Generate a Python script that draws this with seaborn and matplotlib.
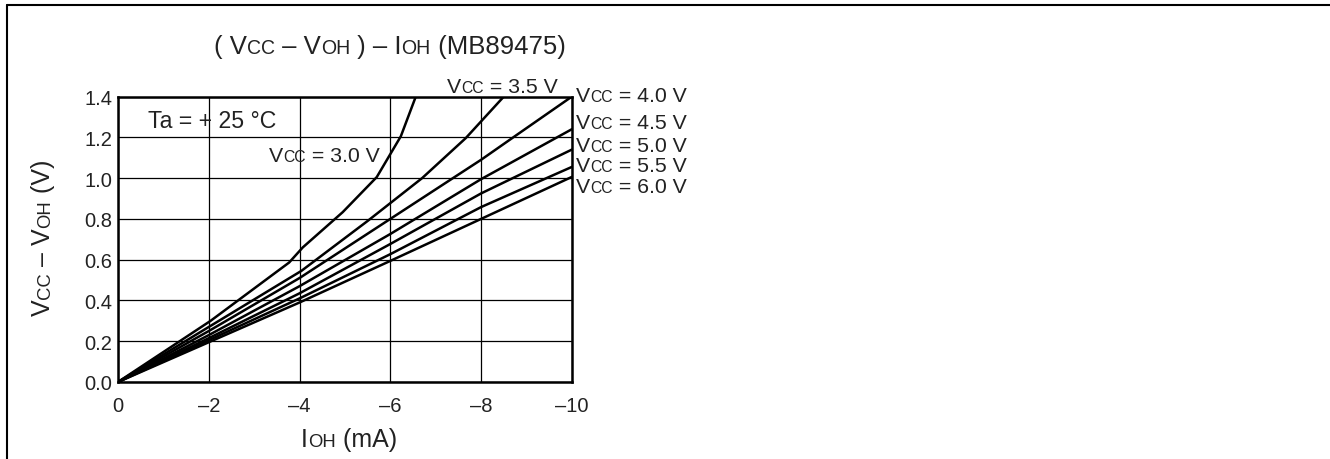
import pandas as pd
import matplotlib.pyplot as plt
import seaborn as sns
from matplotlib.lines import Line2D
from matplotlib.transforms import offset_copy

# curve data (IOH in mA, VCC - VOH in V)
ioh_30 = [0, -2.04, -3.77, -4.07, -4.95, -5.70, -6.23, -6.56]
v_30 = [0, 0.30, 0.586, 0.66, 0.833, 1.005, 1.205, 1.40]
ioh_35 = [0, -2.0, -4.04, -5.5, -6.7, -7.66, -8.5]
v_35 = [0, 0.27, 0.545, 0.79, 1.0, 1.196, 1.40]
ioh_40 = [0, -2, -4, -6, -8, -8.74, -10]
v_40 = [0, 0.25, 0.51, 0.80, 1.09, 1.205, 1.40]
ioh_hi = [0, -2, -4, -6, -8, -10]
v_45 = [0, 0.23, 0.47, 0.726, 0.995, 1.24]
v_50 = [0, 0.215, 0.435, 0.677, 0.925, 1.14]
v_55 = [0, 0.205, 0.41, 0.627, 0.858, 1.055]
v_60 = [0, 0.195, 0.39, 0.594, 0.80, 1.006]

vcc_labels = ["3.0", "3.5", "4.0", "4.5", "5.0", "5.5", "6.0"]
x_ticks = [0, -2, -4, -6, -8, -10]
x_ticklabels = ["0", "–2", "–4", "–6", "–8", "–10"]
y_ticks = [0.0, 0.2, 0.4, 0.6, 0.8, 1.0, 1.2, 1.4]
y_ticklabels = ["0.0", "0.2", "0.4", "0.6", "0.8", "1.0", "1.2", "1.4"]

series = [(ioh_30, v_30), (ioh_35, v_35), (ioh_40, v_40), (ioh_hi, v_45),
          (ioh_hi, v_50), (ioh_hi, v_55), (ioh_hi, v_60)]
rows = []
for lab, (xs, ys) in zip(vcc_labels, series):
    for x, y in zip(xs, ys):
        rows.append({"vcc": lab, "ioh": x, "v": y})
df = pd.DataFrame(rows)

sns.set_theme(style="white")
plt.rcParams["font.family"] = ["Liberation Sans", "DejaVu Sans"]

W, H = 1330, 460
fig = plt.figure(figsize=(W / 100, H / 100), dpi=100)
ax = fig.add_axes([118 / W, 1 - 383 / H, (572 - 118) / W, (383 - 97.5) / H])

sns.lineplot(data=df, x="ioh", y="v", hue="vcc", palette=["black"] * 7,
             estimator=None, sort=False, legend=False, linewidth=1.8, ax=ax)

ax.set_xlim(0, -10)
ax.set_ylim(0, 1.4)
ax.set_xticks(x_ticks, x_ticklabels)
ax.set_yticks(y_ticks, y_ticklabels)
ax.tick_params(axis="both", length=0, labelsize=14.5, colors="#222222")
ax.tick_params(axis="x", pad=10)
ax.tick_params(axis="y", pad=4)
ax.grid(True, color="black", linewidth=0.9)
for sp in ax.spines.values():
    sp.set_color("black")
    sp.set_linewidth(1.8)
ax.set_xlabel("")
ax.set_ylabel("")

renderer = fig.canvas.get_renderer()


def rich(x, y, parts, size, trans, ha="left", rotation=0):
    # text with smaller capital "subscripts" (VCC, VOH, IOH) on a shared baseline
    texts, widths = [], []
    for s, k in parts:
        t = fig.text(x, y, s, fontsize=size * k, transform=trans, va="baseline",
                     ha="left", rotation=rotation, rotation_mode="anchor",
                     color="#222222")
        bb = t.get_window_extent(renderer)
        widths.append(bb.height if rotation else bb.width)
        texts.append(t)
    off = {"left": 0, "center": -sum(widths) / 2, "right": -sum(widths)}[ha]
    for t, w in zip(texts, widths):
        if rotation:
            t.set_transform(offset_copy(trans, fig=fig, y=off, units="dots"))
        else:
            t.set_transform(offset_copy(trans, fig=fig, x=off, units="dots"))
        off += w


px = fig.transFigure
sc = 0.74


def fx(v):
    return v / W


def fy(v):
    return 1 - v / H


# title
rich(fx(214), fy(54), [("( V", 1), ("CC", 0.76), (" – V", 1), ("OH", 0.76), (" ) – I", 1),
                       ("OH", 0.76), (" (MB89475)", 1)], 18.5, px)
# axis labels
rich(fx(349), fy(447), [("I", 1), ("OH", sc), (" (mA)", 1)], 18, px, ha="center")
rich(fx(50), fy(238), [("V", 1), ("CC", sc), (" – V", 1), ("OH", sc), (" (V)", 1)],
     18, px, ha="center", rotation=90)

# annotations
fig.text(fx(148), fy(128), "Ta = + 25 °C", fontsize=16.7, va="baseline", color="#222222")
rich(fx(269), fy(162), [("V", 1), ("CC", sc), (" = 3.0 V", 1)], 15.3, px)
rich(fx(447), fy(93), [("V", 1), ("CC", sc), (" = 3.5 V", 1)], 15.3, px)
right_base = [101.7, 129, 151.7, 171.7, 193.3]
for lab, yb in zip(vcc_labels[2:], right_base):
    rich(fx(576), fy(yb), [("V", 1), ("CC", sc), (f" = {lab} V", 1)], 15.3, px)

# outer frame (top and left edges)
fig.add_artist(Line2D([fx(7), 1], [fy(6), fy(6)], transform=px, color="black", linewidth=1.5))
fig.add_artist(Line2D([fx(7), fx(7)], [fy(6), 0], transform=px, color="black", linewidth=1.5))

fig.savefig("out.png", dpi=100, facecolor="white")
